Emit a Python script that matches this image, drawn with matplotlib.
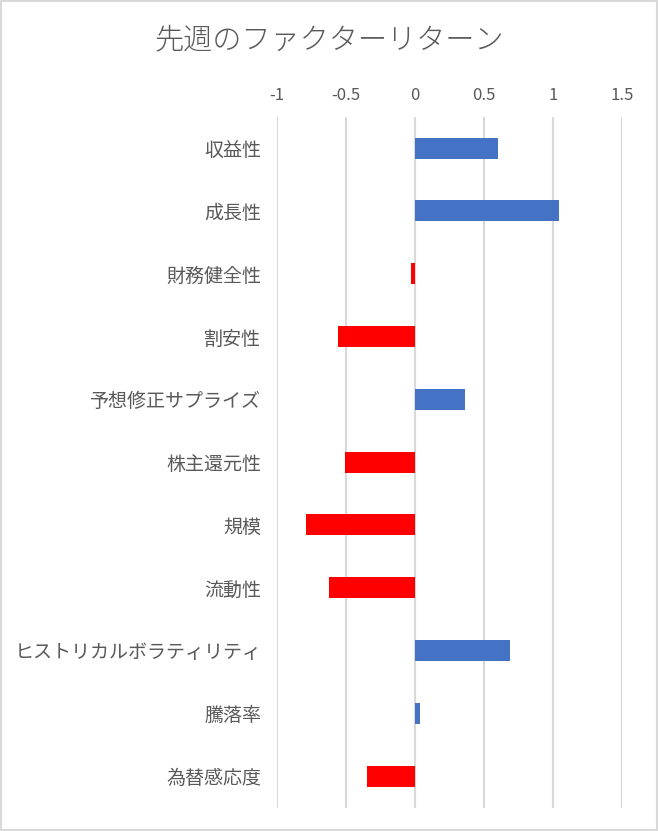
import matplotlib
matplotlib.use("Agg")
import matplotlib.pyplot as plt
from matplotlib.patches import Rectangle

plt.rcParams['font.family'] = ['Noto Sans CJK JP', 'DejaVu Sans']

categories = ["収益性", "成長性", "財務健全性", "割安性", "予想修正サプライズ", "株主還元性",
              "規模", "流動性", "ヒストリカルボラティリティ", "騰落率", "為替感応度"]
values = [0.60, 1.044, -0.025, -0.554, 0.366, -0.503, -0.785, -0.619, 0.69, 0.04, -0.344]
xticks = [-1, -0.5, 0, 0.5, 1, 1.5]
xtick_labels = ["-1", "-0.5", "0", "0.5", "1", "1.5"]
title = "先週のファクターリターン"

pos_color = "#4472C4"
neg_color = "#FF0000"
text_color = "#595959"
grid_color = "#D9D9D9"

fig = plt.figure(figsize=(6.58, 8.31), dpi=100)
fig.patch.set_facecolor("white")
fig.patches.append(Rectangle((0.0015, 0.0015), 0.997, 0.997, transform=fig.transFigure,
                             fill=False, edgecolor="#D9D9D9", linewidth=1.5))

ax = fig.add_axes([276.7 / 658, 1 - 807.5 / 831, (622 - 276.7) / 658, (807.5 - 116.7) / 831])
y = list(range(len(categories)))
colors = [pos_color if v >= 0 else neg_color for v in values]
ax.barh(y, values, height=0.335, color=colors, zorder=3)

ax.set_xlim(-1, 1.5)
ax.set_ylim(len(categories) - 0.5, -0.5)
ax.set_xticks(xticks)
ax.set_xticklabels(xtick_labels)
ax.set_yticks(y)
ax.set_yticklabels(categories)
ax.xaxis.tick_top()
ax.tick_params(axis='x', length=0, pad=9, labelsize=12, labelcolor=text_color)
ax.tick_params(axis='y', length=0, pad=11, labelsize=13.7, labelcolor=text_color)
for s in ax.spines.values():
    s.set_visible(False)
ax.grid(axis='x', color=grid_color, linewidth=1.5, zorder=0)
ax.set_axisbelow(True)

fig.text(329 / 658, 1 - 40 / 831, title, ha='center', va='center', fontsize=21,
         color=text_color, fontweight='light')

fig.savefig("out.png", dpi=100, facecolor="white")
